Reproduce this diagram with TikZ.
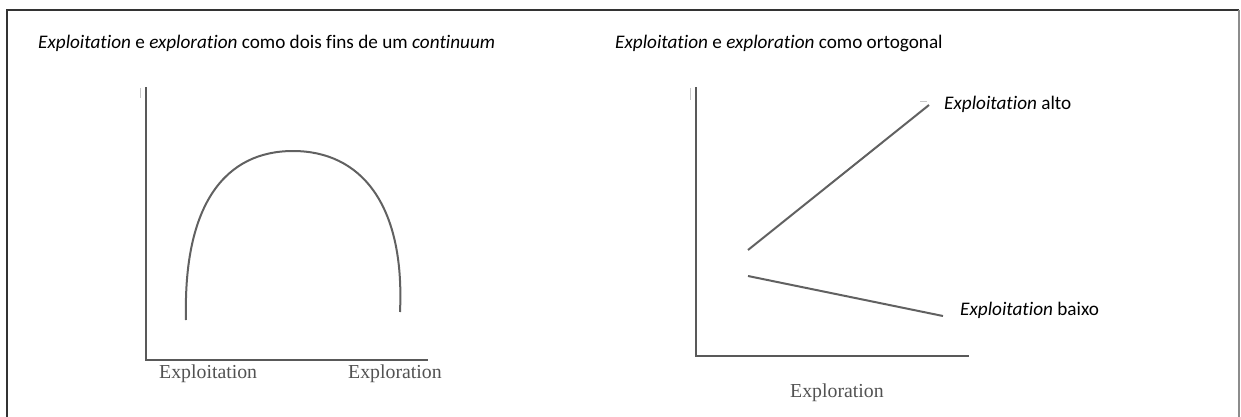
\documentclass[tikz,border=0pt]{standalone}
\usepackage{fontspec}
\setmainfont{Carlito}[Ligatures={NoCommon}]
\newfontfamily\plotfont{Liberation Serif}
\begin{document}
\begin{tikzpicture}[x=1pt,y=-1pt,
  axis/.style={draw=black!65,line width=2.4pt,line cap=rect},
  curve/.style={draw=black!62,line width=2pt},
  faint/.style={draw=black!22,line width=1pt},
  frameline/.style={line width=2pt},
  title/.style={anchor=base west,inner sep=0pt,font=\fontsize{19.2}{22}\selectfont},
  axlabel/.style={anchor=base west,inner sep=0pt,text=black!68,font=\plotfont\fontsize{19.8}{22}\selectfont},
  linelabel/.style={anchor=base west,inner sep=0pt,font=\fontsize{19.2}{22}\selectfont}]
\useasboundingbox (0,0) rectangle (1241,416);
% frame
\draw[frameline,draw=black!80] (7,430) -- (7,10) -- (1239,10);
\draw[frameline,draw=black!45] (1239,10) -- (1239,430);
% titles
\node[title] (t1) at (38,48) {\textit{Exploitation} e \textit{exploration} como dois fins de um \textit{continuum}};
\node[title] (t2) at (615,48) {\textit{Exploitation} e \textit{exploration} como ortogonal};
% left chart
\coordinate (lo) at (146,360);
\coordinate (ltop) at (146,88);
\coordinate (lend) at (427,360);
\draw[axis] (ltop) -- (lo) -- (lend);
\draw[faint] (140,88) -- (140,98);
\coordinate (c0) at (186,320);
\coordinate (cp) at (293,151);
\coordinate (c1) at (400,312);
\draw[curve] (c0) .. controls (183,203) and (226,151) .. (cp) .. controls (360,151) and (405,203) .. (c1);
\node[axlabel] (xa) at (159,378) {Exploitation};
\node[axlabel] (xb) at (348,378) {Exploration};
% right chart
\coordinate (ro) at (696,356);
\coordinate (rtop) at (696,88);
\coordinate (rend) at (968,356);
\draw[axis] (rtop) -- (ro) -- (rend);
\draw[faint] (690,88) -- (690,100);
\draw[faint] (920,101) -- (927,101);
\coordinate (u0) at (748,250);
\coordinate (u1) at (929,105);
\coordinate (d0) at (748,276);
\coordinate (d1) at (943,316);
\draw[curve] (u0) -- (u1);
\draw[curve] (d0) -- (d1);
\node[linelabel] (la) at (944,109) {\textit{Exploitation} alto};
\node[linelabel] (lb) at (960,315) {\textit{Exploitation} baixo};
\node[axlabel] (xc) at (790,397) {Exploration};
\end{tikzpicture}
\end{document}
